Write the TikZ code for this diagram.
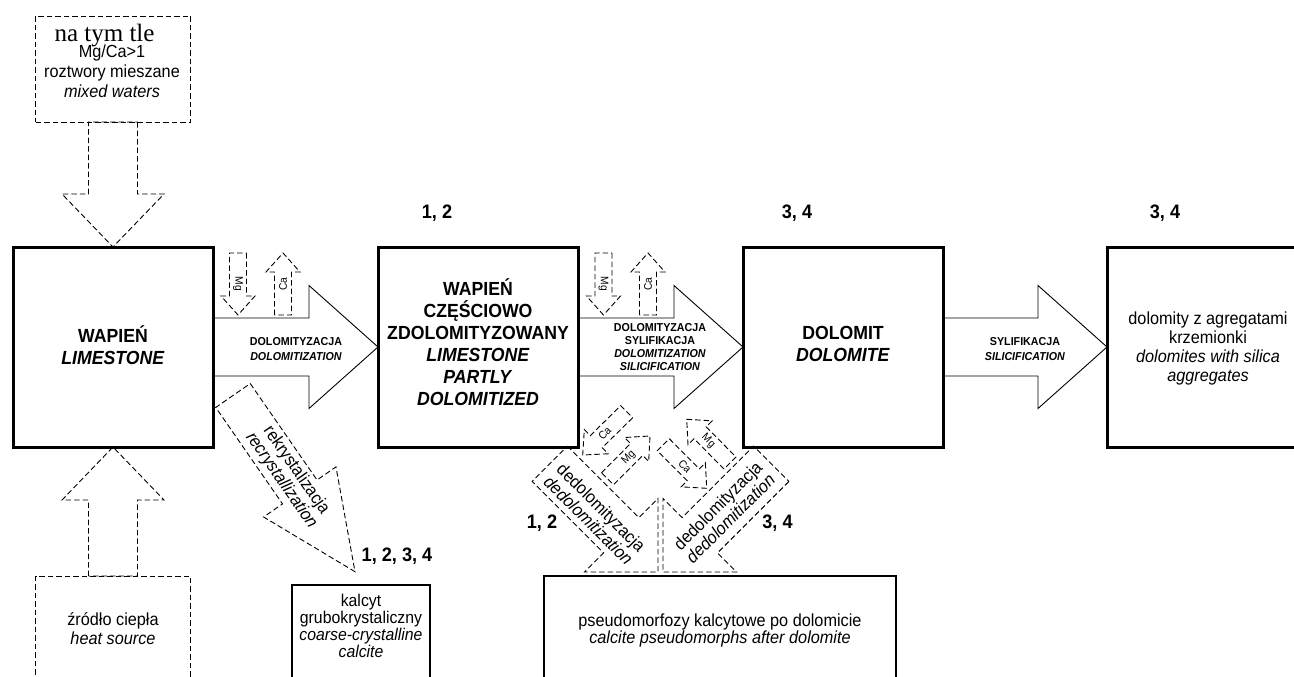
\documentclass[tikz,border=0pt]{standalone}
\usepackage{fontspec}
\setmainfont{Liberation Sans}[FakeStretch=0.93]
\newfontfamily\serifnote{Liberation Serif}
\usetikzlibrary{calc}
% block arrow: #1 style, #2 tail, #3 tip, #4 shaft half width, #5 head half width, #6 head length
\newcommand{\blockarr}[6]{%
  \coordinate (ba-q) at ($(#3)!#6!(#2)$);
  \draw[#1] ($(#2)!#4!90:(#3)$) -- ($(ba-q)!#4!90:(#3)$) -- ($(ba-q)!#5!90:(#3)$) -- (#3)
    -- ($(ba-q)!#5!-90:(#3)$) -- ($(ba-q)!#4!-90:(#3)$) -- ($(#2)!#4!-90:(#3)$) -- cycle;
}
\tikzset{
  dsh/.style={line width=0.9pt, dash pattern=on 5.5pt off 3pt, line join=miter},
  sol/.style={line width=0.9pt, line join=miter},
  bigbox/.style={draw, line width=3pt, fill=white, minimum width=200pt, minimum height=200pt, outer sep=0pt, inner sep=0pt},
  dbox/.style={draw, line width=0.9pt, dash pattern=on 5.5pt off 3pt, fill=white, outer sep=0pt, inner sep=0pt},
  sbox/.style={draw, line width=1.6pt, fill=white, outer sep=0pt, inner sep=0pt},
  maintxt/.style={font=\fontsize{19}{22}\selectfont\bfseries, align=center, inner sep=0pt},
  regtxt/.style={font=\fontsize{17.5}{20}\selectfont, align=center, inner sep=0pt},
  lbltxt/.style={font=\fontsize{11.5}{15}\selectfont\bfseries, align=center, inner sep=0pt},
  numtxt/.style={font=\fontsize{19.5}{22}\selectfont\bfseries, inner sep=0pt},
  iontxt/.style={font=\fontsize{11}{12}\selectfont, inner sep=0pt},
}
\begin{document}
\begin{tikzpicture}[x=1pt,y=-1pt]
\useasboundingbox (0,0) rectangle (1294,677);
\fill[white] (0,0) rectangle (1294,677);
\clip (0,0) rectangle (1294,677);

% ---------- boxes ----------
\node[bigbox] (b1) at (113,347) {};
\node[bigbox] (b2) at (478,347) {};
\node[bigbox] (b3) at (843,347) {};
\node[bigbox] (b4) at (1207,347) {};
\node[dbox, minimum width=155pt, minimum height=106pt] (mix) at (113,69) {};
\node[dbox, minimum width=155pt, minimum height=124pt] (heat) at (113,638) {};
\node[sbox, minimum width=138pt, minimum height=124pt] (kal) at (361,647) {};
\node[sbox, minimum width=352pt, minimum height=124pt] (pseudo) at (720,638) {};

% ---------- big arrows ----------
\blockarr{dsh}{mix.south}{b1.north}{24.5pt}{51pt}{53pt}
\blockarr{dsh}{heat.north}{b1.south}{24.5pt}{51pt}{53pt}
\blockarr{sol}{b1.east}{b2.west}{29pt}{61.5pt}{69pt}
\blockarr{sol}{b2.east}{b3.west}{29pt}{61.5pt}{69pt}
\blockarr{sol}{b3.east}{b4.west}{29pt}{61.5pt}{69pt}

\coordinate (rks) at (233,395.5);
\coordinate (rke) at (355,571.7);
\blockarr{dsh}{rks}{rke}{21pt}{44pt}{97pt}

\coordinate (dls) at (549.8,463.8);
\coordinate (dle) at (658,572);
\blockarr{dsh}{dls}{dle}{25pt}{52pt}{52pt}
\coordinate (drs) at (771.2,463.8);
\coordinate (dre) at (663,572);
\blockarr{dsh}{drs}{dre}{25pt}{52pt}{52pt}

% ---------- small ion arrows ----------
\coordinate (mg1s) at (238,253);   \coordinate (mg1e) at (238,315);
\coordinate (ca1s) at (283,315);   \coordinate (ca1e) at (283,253);
\coordinate (mg2s) at (603.5,253); \coordinate (mg2e) at (603.5,315);
\coordinate (ca2s) at (648,315);   \coordinate (ca2e) at (648,253);
\coordinate (ca3s) at (626.7,411.7); \coordinate (ca3e) at (582.7,455);
\coordinate (mg3s) at (607.5,478.8); \coordinate (mg3e) at (650,436);
\coordinate (mg4s) at (730,463);     \coordinate (mg4e) at (686.7,419.3);
\coordinate (ca4s) at (663.3,444.7); \coordinate (ca4e) at (706.7,488.3);
\foreach \a in {mg1,ca1,mg2,ca2,ca3,mg3,mg4,ca4}{
  \blockarr{dsh}{\a s}{\a e}{8.5pt}{17pt}{19pt}
}
\node[iontxt, rotate=-90] (mg1t) at ($(mg1s)!0.5!(mg1e)$) {Mg};
\node[iontxt, rotate=90]  (ca1t) at ($(ca1s)!0.5!(ca1e)$) {Ca};
\node[iontxt, rotate=-90] (mg2t) at ($(mg2s)!0.5!(mg2e)$) {Mg};
\node[iontxt, rotate=90]  (ca2t) at ($(ca2s)!0.5!(ca2e)$) {Ca};
\node[iontxt, rotate=45]  (ca3t) at ($(ca3s)!0.5!(ca3e)$) {Ca};
\node[iontxt, rotate=45]  (mg3t) at ($(mg3s)!0.5!(mg3e)$) {Mg};
\node[iontxt, rotate=-45] (mg4t) at ($(mg4s)!0.5!(mg4e)$) {Mg};
\node[iontxt, rotate=-45] (ca4t) at ($(ca4s)!0.5!(ca4e)$) {Ca};

% ---------- texts ----------
\node[font=\serifnote\fontsize{25}{25}\selectfont, inner sep=0pt, anchor=base] (bg) at (104.5,42) {na tym tle};
\node[regtxt] (mixt) at (112,71) {Mg/Ca>1\\roztwory mieszane\\\textit{mixed waters}};
\node[regtxt, font=\fontsize{17.5}{19}\selectfont] (heatt) at (113,629) {źródło ciepła\\\textit{heat source}};

\node[maintxt] (b1t) at (113,345) {WAPIEŃ\\\textit{LIMESTONE}};
\node[maintxt] (b2t) at (478,342) {WAPIEŃ\\CZĘŚCIOWO\\ZDOLOMITYZOWANY\\\textit{LIMESTONE}\\\textit{PARTLY}\\\textit{DOLOMITIZED}};
\node[maintxt] (b3t) at (843,344) {DOLOMIT\\\textit{DOLOMITE}};
\node[regtxt, font=\fontsize{17.5}{19}\selectfont] (b4t) at (1208,348) {dolomity z agregatami\\krzemionki\\\textit{dolomites with silica}\\\textit{aggregates}};
\node[regtxt, font=\fontsize{17}{17}\selectfont] (kalt) at (361,626) {kalcyt\\grubokrystaliczny\\\textit{coarse-crystalline}\\\textit{calcite}};
\node[regtxt, font=\fontsize{17.5}{17}\selectfont] (pst) at (720,630) {pseudomorfozy kalcytowe po dolomicie\\\textit{calcite pseudomorphs after dolomite}};

\node[lbltxt] (a1t) at (296,349) {DOLOMITYZACJA\\\textit{DOLOMITIZATION}};
\node[lbltxt, font=\fontsize{11.5}{13}\selectfont\bfseries] (a2t) at (660,347) {DOLOMITYZACJA\\SYLIFIKACJA\\\textit{DOLOMITIZATION}\\\textit{SILICIFICATION}};
\node[lbltxt] (a3t) at (1025,349) {SYLIFIKACJA\\\textit{SILICIFICATION}};

\node[regtxt, font=\fontsize{17.5}{18}\selectfont, rotate=-55.3] (rkt) at (288.7,475.5) {rekrystalizacja\\\textit{recrystallization}};
\node[regtxt, font=\fontsize{17.5}{18}\selectfont, rotate=-45] (dlt) at (595,514) {dedolomityzacja\\\textit{dedolomitization}};
\node[regtxt, font=\fontsize{17.5}{18}\selectfont, rotate=45] (drt) at (724,512) {dedolomityzacja\\\textit{dedolomitization}};

\node[numtxt] (n1) at (437,213) {1, 2};
\node[numtxt] (n2) at (797,213) {3, 4};
\node[numtxt] (n3) at (1165,213) {3, 4};
\node[numtxt] (n4) at (542,523) {1, 2};
\node[numtxt] (n5) at (777.5,523) {3, 4};
\node[numtxt] (n6) at (397,556) {1, 2, 3, 4};
\end{tikzpicture}
\end{document}
